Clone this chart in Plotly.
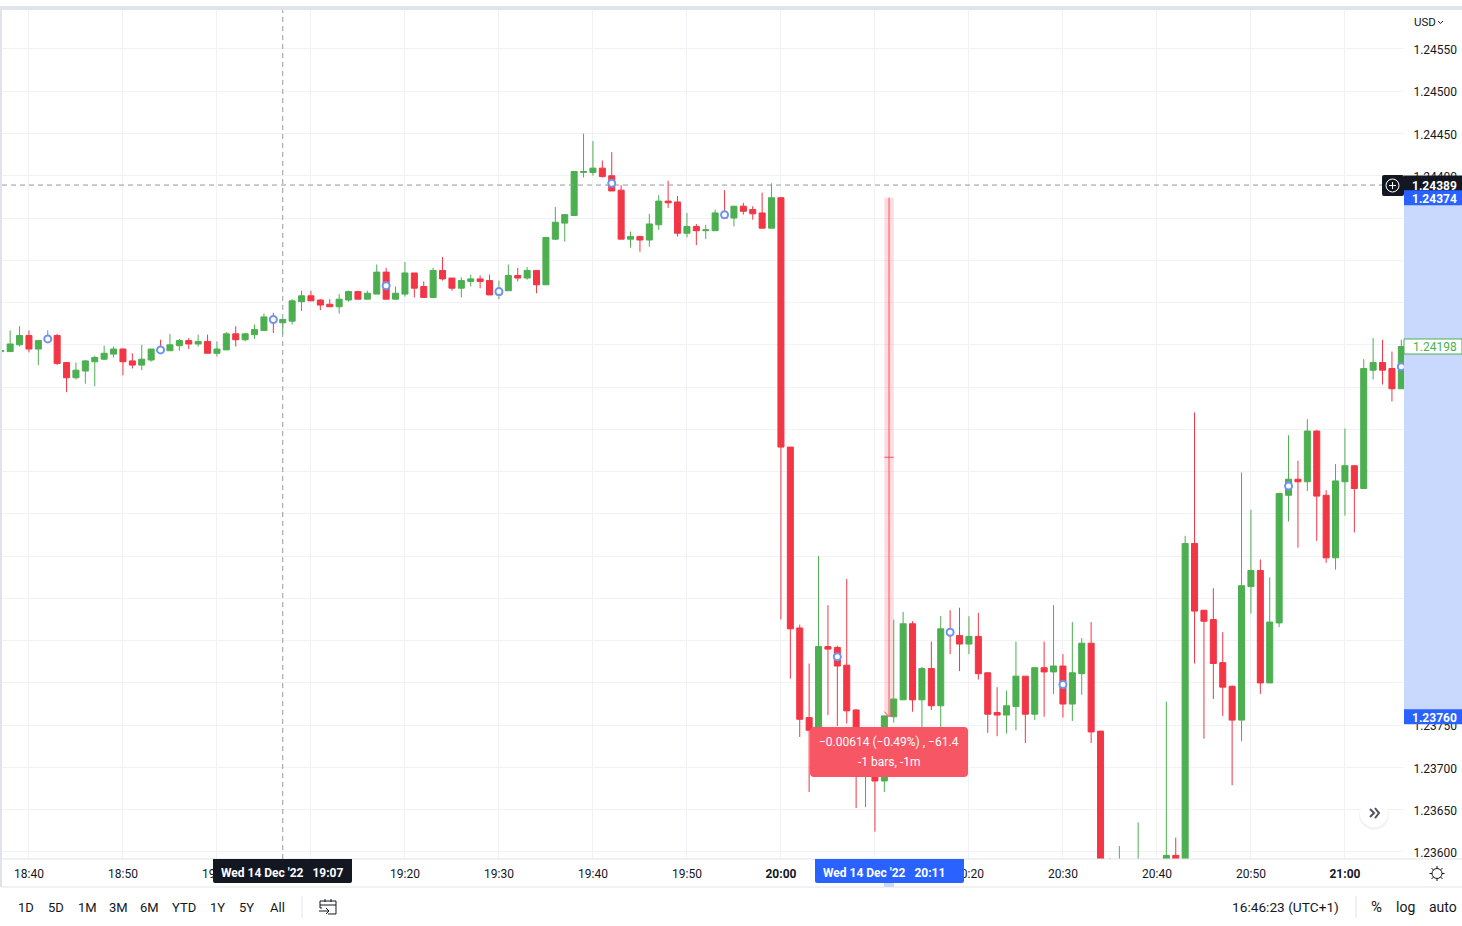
import pandas as pd
import plotly.graph_objects as go

first_bar = "2022-12-14 18:37"
opens = [1.24192,1.24192,1.24200,
1.24211,1.24195,1.24205,1.24211,1.24179,1.24161,1.24169,1.24180,1.24183,1.24189,
1.24195,1.24181,1.24176,1.24182,1.24196,1.24193,1.24199,1.24205,1.24201,1.24204,
1.24190,1.24194,1.24213,1.24206,1.24212,1.24217,1.24232,1.24226,1.24228,1.24251,
1.24258,1.24253,1.24248,1.24245,1.24253,1.24263,1.24254,1.24260,1.24286,1.24254,
1.24260,1.24285,1.24269,1.24256,1.24288,1.24279,1.24267,1.24275,1.24278,1.24276,
1.24259,1.24264,1.24282,1.24279,1.24288,1.24271,1.24325,1.24344,1.24353,1.24404,
1.24404,1.24409,1.24400,1.24383,1.24325,1.24328,1.24324,1.24342,1.24370,1.24369,
1.24332,1.24340,1.24335,1.24335,1.24356,1.24350,1.24364,1.24360,1.24356,1.24338,
1.24374,1.24079,1.23865,1.23759,1.23733,1.23843,1.23842,1.23821,1.23768,1.23703,
1.23721,1.23684,1.23760,1.23780,1.23870,1.23780,1.23817,1.23773,1.23863,1.23856,
1.23846,1.23855,1.23812,1.23765,1.23762,1.23772,1.23808,1.23763,1.23818,1.23813,
1.23820,1.23775,1.23811,1.23847,1.23743,1.23570,1.23580,1.23575,1.23580,1.23585,
1.23575,1.23580,1.23596,1.23575,1.23965,1.23886,1.23875,1.23824,1.23796,1.23756,
1.23914,1.23933,1.23800,1.23871,1.24022,1.24041,1.24038,1.24098,1.24022,1.23948,
1.24038,1.24057,1.24030,1.24170,1.24179,1.24172,1.24148]
highs = [1.24193,1.24217,1.24222,
1.24217,1.24205,1.24217,1.24213,1.24179,1.24179,1.24182,1.24187,1.24199,1.24198,
1.24196,1.24190,1.24200,1.24195,1.24206,1.24213,1.24207,1.24208,1.24212,1.24212,
1.24204,1.24215,1.24222,1.24214,1.24224,1.24237,1.24238,1.24230,1.24254,1.24264,
1.24264,1.24254,1.24254,1.24260,1.24264,1.24264,1.24264,1.24295,1.24291,1.24269,
1.24298,1.24285,1.24275,1.24291,1.24304,1.24279,1.24280,1.24283,1.24282,1.24283,
1.24276,1.24295,1.24291,1.24292,1.24288,1.24327,1.24363,1.24354,1.24405,1.24450,
1.24441,1.24418,1.24428,1.24389,1.24334,1.24329,1.24355,1.24377,1.24394,1.24376,
1.24356,1.24343,1.24342,1.24360,1.24383,1.24364,1.24368,1.24364,1.24380,1.24391,
1.24375,1.24079,1.23869,1.23823,1.23950,1.23892,1.23844,1.23923,1.23769,1.23739,
1.23733,1.23761,1.23875,1.23884,1.23873,1.23819,1.23849,1.23879,1.23886,1.23889,
1.23879,1.23883,1.23812,1.23795,1.23791,1.23849,1.23808,1.23818,1.23849,1.23892,
1.23834,1.23872,1.23853,1.23872,1.23743,1.23593,1.23607,1.23590,1.23635,1.23590,
1.23588,1.23778,1.23617,1.23974,1.24120,1.23886,1.23912,1.23860,1.23797,1.24049,
1.24005,1.23946,1.23925,1.24025,1.24093,1.24063,1.24112,1.24099,1.24028,1.24059,
1.24101,1.24057,1.24183,1.24208,1.24206,1.24192,1.24206]
lows = [1.24191,1.24192,1.24198,
1.24191,1.24176,1.24204,1.24176,1.24144,1.24159,1.24154,1.24151,1.24182,1.24185,
1.24164,1.24172,1.24170,1.24180,1.24190,1.24193,1.24193,1.24195,1.24198,1.24190,
1.24186,1.24194,1.24198,1.24204,1.24207,1.24217,1.24214,1.24213,1.24224,1.24240,
1.24252,1.24241,1.24245,1.24237,1.24251,1.24254,1.24254,1.24260,1.24254,1.24254,
1.24257,1.24256,1.24256,1.24256,1.24276,1.24264,1.24256,1.24269,1.24267,1.24259,
1.24254,1.24264,1.24275,1.24277,1.24261,1.24271,1.24324,1.24322,1.24353,1.24398,
1.24400,1.24398,1.24382,1.24325,1.24315,1.24310,1.24316,1.24336,1.24362,1.24328,
1.24327,1.24318,1.24325,1.24335,1.24350,1.24340,1.24354,1.24348,1.24338,1.24338,
1.23875,1.23805,1.23736,1.23671,1.23727,1.23762,1.23749,1.23752,1.23652,1.23653,
1.23624,1.23671,1.23753,1.23780,1.23766,1.23744,1.23768,1.23739,1.23834,1.23814,
1.23834,1.23804,1.23741,1.23737,1.23740,1.23744,1.23729,1.23756,1.23760,1.23787,
1.23759,1.23755,1.23786,1.23729,1.23555,1.23565,1.23575,1.23565,1.23575,1.23570,
1.23565,1.23575,1.23570,1.23570,1.23823,1.23734,1.23781,1.23761,1.23679,1.23731,
1.23882,1.23787,1.23800,1.23866,1.23991,1.23960,1.24027,1.23968,1.23942,1.23934,
1.23998,1.23978,1.24030,1.24159,1.24153,1.24133,1.24148]
closes = [1.24193,1.24201,1.24211,
1.24195,1.24205,1.24208,1.24178,1.24161,1.24170,1.24181,1.24185,1.24190,1.24195,
1.24180,1.24176,1.24183,1.24195,1.24192,1.24200,1.24205,1.24201,1.24204,1.24190,
1.24195,1.24213,1.24206,1.24213,1.24218,1.24233,1.24227,1.24230,1.24252,1.24258,
1.24252,1.24247,1.24245,1.24254,1.24263,1.24254,1.24261,1.24286,1.24254,1.24261,
1.24285,1.24267,1.24256,1.24288,1.24278,1.24267,1.24276,1.24278,1.24275,1.24259,
1.24266,1.24282,1.24279,1.24288,1.24271,1.24327,1.24345,1.24354,1.24405,1.24405,
1.24409,1.24399,1.24382,1.24325,1.24328,1.24324,1.24343,1.24370,1.24368,1.24332,
1.24340,1.24335,1.24336,1.24356,1.24350,1.24364,1.24358,1.24355,1.24338,1.24374,
1.24079,1.23864,1.23757,1.23744,1.23843,1.23840,1.23820,1.23767,1.23727,1.23727,
1.23684,1.23761,1.23781,1.23870,1.23780,1.23817,1.23773,1.23864,1.23857,1.23846,
1.23855,1.23811,1.23763,1.23762,1.23773,1.23808,1.23763,1.23818,1.23813,1.23820,
1.23775,1.23812,1.23847,1.23742,1.23560,1.23585,1.23585,1.23585,1.23585,1.23575,
1.23580,1.23596,1.23575,1.23965,1.23885,1.23873,1.23823,1.23795,1.23756,1.23915,
1.23933,1.23800,1.23872,1.24024,1.24041,1.24038,1.24098,1.24021,1.23948,1.24039,
1.24057,1.24030,1.24172,1.24179,1.24170,1.24148,1.24198]

event_times = ["18:42","18:54","19:06","19:18","19:30","19:42","19:54","20:06","20:18","20:30","20:54","21:06"]
event_prices = [1.24207,1.24194,1.24230,1.24270,1.24263,1.24391,1.24354,1.23831,1.23860,1.23798,1.24033,1.24174]

time_ticks = ["18:40","18:50","19:00","19:10","19:20","19:30","19:40","19:50","20:00","20:10","20:20","20:30","20:40","20:50","21:00"]
bold_ticks = ["20:00","21:00"]
period_buttons = [("1D",26),("5D",56),("1M",87),("3M",118),("6M",149),("YTD",184),("1Y",218),("5Y",247),("All",277)]

crosshair_price = 1.24389
crosshair_time = "19:07"
measure_from = 1.24374
measure_to = 1.23760
last_price = 1.24198

GREEN, RED = "#4caf50", "#f23645"
INK, GRID, EDGE, BLUE = "#131722", "#f1f2f6", "#e0e3eb", "#2962ff"
FONT = "Roboto"
W, H = 1462, 926
L, R, T, B = 2, 1404, 10, 859

def t(hm):
    return f"2022-12-14 {hm}"
def xp(px):
    return (px - L) / (R - L)
def yp(py):
    return (B - py) / (B - T)
def pt(px, py):
    return f"{xp(px):.5f},{yp(py):.5f}"

shapes, notes = [], []
def rect(x0, y0, x1, y1, fill, line=None, lw=1, layer="above"):
    shapes.append(dict(type="rect", xref="paper", yref="paper", x0=xp(x0), x1=xp(x1), y0=yp(y0), y1=yp(y1),
                       fillcolor=fill, line=dict(color=line or fill, width=lw if line else 0), layer=layer))
def line(x0, y0, x1, y1, color, lw=1, layer="above"):
    shapes.append(dict(type="line", xref="paper", yref="paper", x0=xp(x0), x1=xp(x1), y0=yp(y0), y1=yp(y1),
                       line=dict(color=color, width=lw), layer=layer))
def path(d, color=None, fill=None, lw=1):
    shapes.append(dict(type="path", xref="paper", yref="paper", path=d,
                       line=dict(color=color or "rgba(0,0,0,0)", width=lw), fillcolor=fill or "rgba(0,0,0,0)", layer="above"))
def rrect(x0, y0, x1, y1, r, fill, tl=True, tr=True, bl=True, br=True):
    d = f"M{pt(x0 + (r if tl else 0), y0)} L{pt(x1 - (r if tr else 0), y0)} "
    if tr: d += f"Q{pt(x1, y0)} {pt(x1, y0 + r)} "
    d += f"L{pt(x1, y1 - (r if br else 0))} "
    if br: d += f"Q{pt(x1, y1)} {pt(x1 - r, y1)} "
    d += f"L{pt(x0 + (r if bl else 0), y1)} "
    if bl: d += f"Q{pt(x0, y1)} {pt(x0, y1 - r)} "
    d += f"L{pt(x0, y0 + (r if tl else 0))} "
    if tl: d += f"Q{pt(x0, y0)} {pt(x0 + r, y0)} "
    path(d + "Z", fill=fill)
def circle(cx, cy, r, fill="rgba(0,0,0,0)", color=None, lw=1):
    shapes.append(dict(type="circle", xref="paper", yref="paper", x0=xp(cx - r), x1=xp(cx + r), y0=yp(cy + r), y1=yp(cy - r),
                       fillcolor=fill, line=dict(color=color or "rgba(0,0,0,0)", width=lw), layer="above"))
def text(px, py, s, color=INK, size=12, anchor="center", bold=False):
    notes.append(dict(xref="paper", yref="paper", x=xp(px), y=yp(py), text=f"<b>{s}</b>" if bold else s, showarrow=False,
                      xanchor=anchor, yanchor="middle", font=dict(family=FONT, size=size, color=color), borderpad=0, borderwidth=0))

# frame
rect(0, 6, W, 10, EDGE)
rect(0, 6, 2, 887, EDGE)
line(2, 859, W, 859, EDGE)
line(2, 887, W, 887, EDGE)

# crosshair
shapes.append(dict(type="line", xref="x", yref="paper", x0=t(crosshair_time), x1=t(crosshair_time), y0=0, y1=1,
                   line=dict(color="#9598a1", width=1, dash="5px,4px"), layer="above"))
shapes.append(dict(type="line", xref="paper", yref="y", x0=0, x1=1, y0=crosshair_price, y1=crosshair_price,
                   line=dict(color="#9598a1", width=1, dash="5px,4px"), layer="above"))

# price range measure
m0, m1 = "2022-12-14 20:11:00", "2022-12-14 20:12:00"
mid = "2022-12-14 20:11:30"
MEAS = "#f7525f"
shapes.append(dict(type="rect", xref="x", yref="y", x0=m0, x1=m1, y0=measure_to, y1=measure_from,
                   fillcolor="rgba(247,82,95,0.2)", line=dict(width=0), layer="above"))
shapes.append(dict(type="line", xref="x", yref="y", x0=mid, x1=mid, y0=measure_to, y1=measure_from,
                   line=dict(color=MEAS, width=1), layer="above"))
mid_price = (measure_from + measure_to) / 2
shapes.append(dict(type="line", xref="x", yref="y", x0=m0, x1=m1, y0=mid_price, y1=mid_price,
                   line=dict(color=MEAS, width=1), layer="above"))
for side in (m0, m1):
    shapes.append(dict(type="line", xref="x", yref="y", x0=side, x1=mid, y0=measure_to + 0.00006, y1=measure_to,
                       line=dict(color=MEAS, width=1), layer="above"))

# measure tooltip
rrect(810, 727, 968, 777, 4, "#f75664")
text(889, 742, "\u22120.00614 (\u22120.49%) , \u221261.4", "#ffffff", 12)
text(889, 762, "-1 bars, -1m", "#ffffff", 12)

# price scale band and labels
shapes.append(dict(type="rect", xref="paper", yref="y", x0=1, x1=xp(W), y0=measure_to, y1=measure_from,
                   fillcolor="#c9d8fd", line=dict(width=0), layer="above"))
def tag(price, fill, s, color="#ffffff", half=8, border=None, bold=True):
    yc = 49 + (1.2455 - price) / 0.0005 * 42.26
    rect(1404, yc - half, W, yc + half, fill, border)
    text(1457, yc + 0.8, s, color, 12, "right", bold)
tag(last_price, "#ffffff", f"{last_price:.5f}", GREEN, 7.5, GREEN, False)
tag(crosshair_price, INK, f"{crosshair_price:.5f}", half=9.5)
tag(measure_from, BLUE, f"{measure_from:.5f}", half=7.5)
tag(measure_to, BLUE, f"{measure_to:.5f}", half=7.5)

# add-alert button
rrect(1382, 175, 1404, 196, 2, INK)
circle(1392.5, 185.5, 6.5, color="#ffffff")
line(1389, 185.5, 1396, 185.5, "#ffffff")
line(1392.5, 182, 1392.5, 189, "#ffffff")

# currency
text(1414, 22.5, "USD", INK, 11.5, "left")
path(f"M{pt(1438, 21)} L{pt(1440.5, 23.5)} L{pt(1443, 21)}", color=INK)

# scroll button
circle(1374, 815, 15, fill="rgba(0,0,0,0.05)")
circle(1374, 813, 14, fill="#ffffff")
path(f"M{pt(1370, 809)} L{pt(1374, 813)} L{pt(1370, 817)}", color="#50535e", lw=2)
path(f"M{pt(1375, 808)} L{pt(1379, 813)} L{pt(1375, 818)}", color="#50535e", lw=2)

# time scale labels
rrect(213, 859, 352, 883, 2, INK, tl=False, tr=False)
text(282, 873.5, "Wed 14 Dec '22 &nbsp;&nbsp;" + crosshair_time, "#ffffff", 12, bold=True)
rrect(815, 859, 964, 883, 2, BLUE, tl=False, tr=False)
text(884, 873.5, "Wed 14 Dec '22 &nbsp;&nbsp;20:11", "#ffffff", 12, bold=True)
rect(884, 883, 894, 887, "#c9d8fd")

# settings icon
circle(1437, 873.5, 5, color=INK)
for a, b, c, d in [(1437, 866, 1437, 868.5), (1437, 878.5, 1437, 881), (1429.5, 873.5, 1432, 873.5), (1442, 873.5, 1444.5, 873.5),
                   (1431.5, 868, 1433.5, 870), (1440.5, 877, 1442.5, 879), (1431.5, 879, 1433.5, 877), (1440.5, 870, 1442.5, 868)]:
    line(a, b, c, d, INK)

# toolbar
for label, cx in period_buttons:
    text(cx, 907, label, INK, 13)
line(302, 896, 302, 918, EDGE)
path(f"M{pt(322, 908)} L{pt(320, 908)} L{pt(320, 901)} L{pt(336, 901)} L{pt(336, 914)} L{pt(328, 914)}", color=INK)
line(320, 905, 336, 905, INK)
line(325, 899, 325, 902, INK)
line(331, 899, 331, 902, INK)
line(319, 911, 329, 911, INK)
path(f"M{pt(326, 908)} L{pt(329, 911)} L{pt(326, 914)}", color=INK)
text(1339, 907, "16:46:23 (UTC+1)", INK, 13.7, "right")
line(1356, 896, 1356, 918, EDGE)
text(1376, 907, "%", INK, 15)
text(1406, 907, "log", INK, 14)
text(1443, 907, "auto", INK, 14)

bars = pd.date_range(first_bar, periods=len(opens), freq="min")

fig = go.Figure()
fig.add_trace(go.Candlestick(
    x=bars, open=opens, high=highs, low=lows, close=closes,
    increasing=dict(line=dict(color=GREEN, width=1), fillcolor=GREEN),
    decreasing=dict(line=dict(color=RED, width=1), fillcolor=RED),
    whiskerwidth=0, hoverinfo="skip", showlegend=False))
fig.add_trace(go.Scatter(
    x=[t(v) for v in event_times], y=event_prices, mode="markers", hoverinfo="skip", showlegend=False, cliponaxis=True,
    marker=dict(symbol="circle", size=7, color="#ffffff", line=dict(color="#6f93ef", width=2))))

fig.update_layout(
    width=W, height=H, margin=dict(l=L, r=W - R, t=T, b=H - B, pad=0, autoexpand=False),
    paper_bgcolor="#ffffff", plot_bgcolor="#ffffff", showlegend=False, boxgap=0.36, boxgroupgap=0,
    font=dict(family=FONT, size=12, color=INK),
    shapes=shapes, annotations=notes,
    xaxis=dict(type="date", range=["2022-12-14 18:37:08", "2022-12-14 21:06:17"], rangeslider=dict(visible=False),
               tickmode="array", tickvals=[t(v) for v in time_ticks],
               ticktext=[f"<b>{v}</b>" if v in bold_ticks else v for v in time_ticks],
               showgrid=True, gridcolor=GRID, gridwidth=1, zeroline=False, showline=False,
               ticks="outside", ticklen=4, tickcolor="rgba(0,0,0,0)", tickangle=0, tickfont=dict(size=12, color=INK), automargin=False),
    yaxis=dict(range=[1.235917, 1.245961], side="right", tick0=1.236, dtick=0.0005, tickformat=".5f",
               showgrid=True, gridcolor=GRID, gridwidth=1, zeroline=False, showline=False,
               ticks="outside", ticklen=6, ticklabelshift=1, tickcolor="rgba(0,0,0,0)", tickfont=dict(size=12, color=INK), automargin=False),
)

fig.write_html("out.html", config=dict(displayModeBar=False),
               post_script="document.body.style.margin='0';document.documentElement.style.overflow='hidden';")
